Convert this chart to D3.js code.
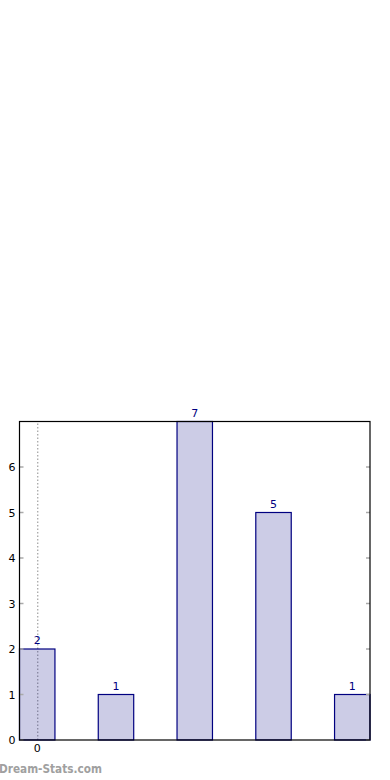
<!DOCTYPE html>
<html>
<head>
<meta charset="utf-8">
<script src="https://cdn.jsdelivr.net/npm/d3@7"></script>
<style>
  body { margin: 0; background: #fff; }
  svg { display: block; font-family: 'DejaVu Sans', sans-serif; }
</style>
</head>
<body>
<svg id="chart" width="390" height="780"></svg>
<script>
// data
const categories = [0, 1, 2, 3, 4];
const counts = [2, 1, 7, 5, 1];
const yTicks = [0, 1, 2, 3, 4, 5, 6];
const xTickLabels = [0];

const margin = { left: 19.5, right: 370, top: 421.5, bottom: 740 };
const barW = 0.45;

const svg = d3.select('#chart');

const x = d3.scaleLinear()
    .domain([-barW / 2, categories.length - 1 + barW / 2])
    .range([margin.left, margin.right]);
const y = d3.scaleLinear()
    .domain([0, 7])
    .range([margin.bottom, margin.top]);

// dotted grid line at x tick
svg.selectAll('.xgrid')
    .data(xTickLabels)
    .enter().append('line')
    .attr('x1', d => x(d) + 0.5).attr('x2', d => x(d) + 0.5)
    .attr('y1', y(0)).attr('y2', y(7))
    .attr('stroke', '#a8a8a8')
    .attr('stroke-width', 1.3)
    .attr('stroke-dasharray', '1.5,2');

// bars
svg.selectAll('.bar')
    .data(counts)
    .enter().append('rect')
    .attr('x', (d, i) => x(categories[i] - barW / 2))
    .attr('y', d => y(d))
    .attr('width', (d, i) => x(categories[i] + barW / 2) - x(categories[i] - barW / 2))
    .attr('height', d => y(0) - y(d))
    .attr('fill', 'rgba(0,0,128,0.2)')
    .attr('stroke', '#000080')
    .attr('stroke-width', 1.2);

// value labels
svg.selectAll('.val')
    .data(counts)
    .enter().append('text')
    .attr('x', (d, i) => x(categories[i]))
    .attr('y', d => y(d) - 5)
    .attr('text-anchor', 'middle')
    .attr('font-size', 11)
    .attr('fill', '#000080')
    .text(d => d);

// y ticks (inside, both sides)
yTicks.forEach(t => {
    svg.append('line')
        .attr('x1', margin.left).attr('x2', margin.left + 4)
        .attr('y1', y(t)).attr('y2', y(t))
        .attr('stroke', '#aaa').attr('stroke-width', 1.5);
    svg.append('line')
        .attr('x1', margin.right - 4).attr('x2', margin.right)
        .attr('y1', y(t)).attr('y2', y(t))
        .attr('stroke', '#aaa').attr('stroke-width', 1.5);
    svg.append('text')
        .attr('x', 15.5)
        .attr('y', y(t) + 4)
        .attr('text-anchor', 'end')
        .attr('font-size', 11)
        .attr('fill', '#000')
        .text(t);
});

// x tick labels
svg.selectAll('.xlab')
    .data(xTickLabels)
    .enter().append('text')
    .attr('x', d => x(d))
    .attr('y', y(0) + 12)
    .attr('text-anchor', 'middle')
    .attr('font-size', 11)
    .text(d => d);

// frame
svg.append('rect')
    .attr('x', margin.left).attr('y', margin.top)
    .attr('width', margin.right - margin.left)
    .attr('height', margin.bottom - margin.top)
    .attr('fill', 'none')
    .attr('stroke', '#000')
    .attr('stroke-width', 1.2);

// watermark
svg.append('text')
    .attr('x', -1).attr('y', 773)
    .attr('font-family', "'DejaVu Sans Condensed', 'DejaVu Sans', sans-serif")
    .attr('font-stretch', 'condensed')
    .attr('font-size', 11.7)
    .attr('font-weight', 'bold')
    .attr('fill', '#a0a0a0')
    .text('Dream-Stats.com');
</script>
</body>
</html>
